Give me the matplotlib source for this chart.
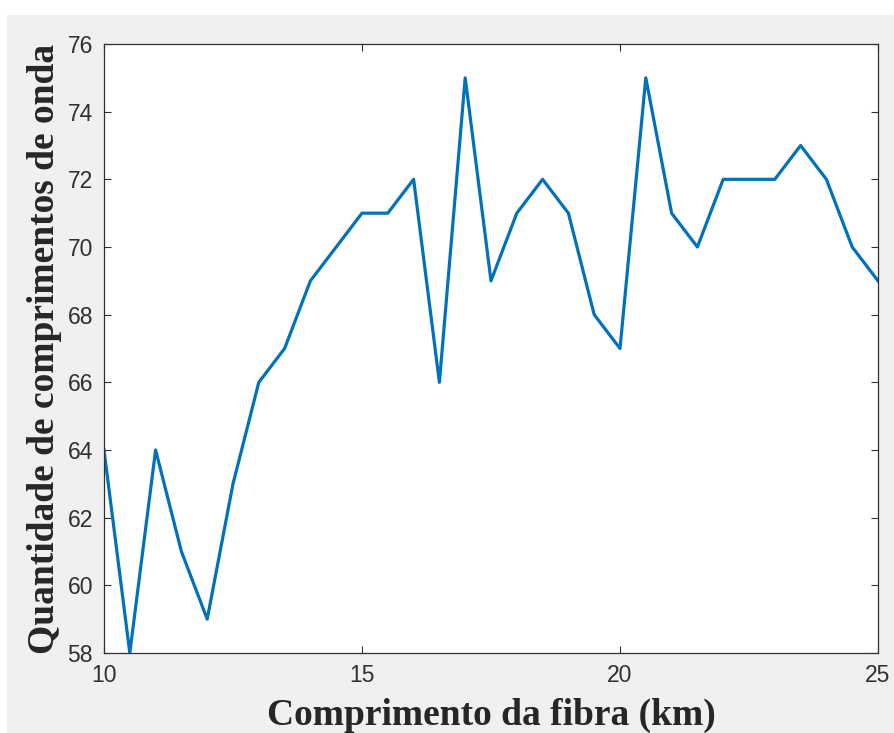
import matplotlib.pyplot as plt
from matplotlib.patches import Rectangle

# dados
comprimento_km = [10, 10.5, 11, 11.5, 12, 12.5, 13, 13.5, 14, 14.5, 15, 15.5, 16, 16.5, 17, 17.5,
                  18, 18.5, 19, 19.5, 20, 20.5, 21, 21.5, 22, 22.5, 23, 23.5, 24, 24.5, 25]
qtd_onda = [64, 58, 64, 61, 59, 63, 66, 67, 69, 70, 71, 71, 72, 66, 75, 69,
            71, 72, 71, 68, 67, 75, 71, 70, 72, 72, 72, 73, 72, 70, 69]
xticks = [10, 15, 20, 25]
yticks = [58, 60, 62, 64, 66, 68, 70, 72, 74, 76]

W, H = 894, 733
fig = plt.figure(figsize=(W / 100, H / 100), dpi=100, facecolor='white')
# fundo cinza estilo MATLAB
fig.patches.append(Rectangle((7 / W, 0), 1, 1 - 15 / H, transform=fig.transFigure,
                             facecolor='#f0f0f0', edgecolor='none', zorder=-10))

ax = fig.add_axes([104 / W, (H - 653) / H, (878 - 104) / W, (653 - 44) / H])
ax.plot(comprimento_km, qtd_onda, color='#0072BD', linewidth=2.3)

ax.set_xlim(10, 25)
ax.set_ylim(58, 76)
ax.set_xticks(xticks)
ax.set_yticks(yticks)
ax.tick_params(direction='in', top=True, right=True, length=5, width=0.8,
               colors='#303030', labelsize=16.5, pad=8)
for lab in ax.get_xticklabels() + ax.get_yticklabels():
    lab.set_family('Liberation Sans')
for s in ax.spines.values():
    s.set_color('#303030')
    s.set_linewidth(0.9)

ax.set_xlabel('Comprimento da fibra (km)', family='Liberation Serif', fontweight='bold',
              fontsize=27, color='#262626', labelpad=8)
ax.set_ylabel('Quantidade de comprimentos de onda', family='Liberation Serif', fontweight='bold',
              fontsize=27, color='#262626', labelpad=4)

fig.savefig('out.png', dpi=100, facecolor=fig.get_facecolor())
